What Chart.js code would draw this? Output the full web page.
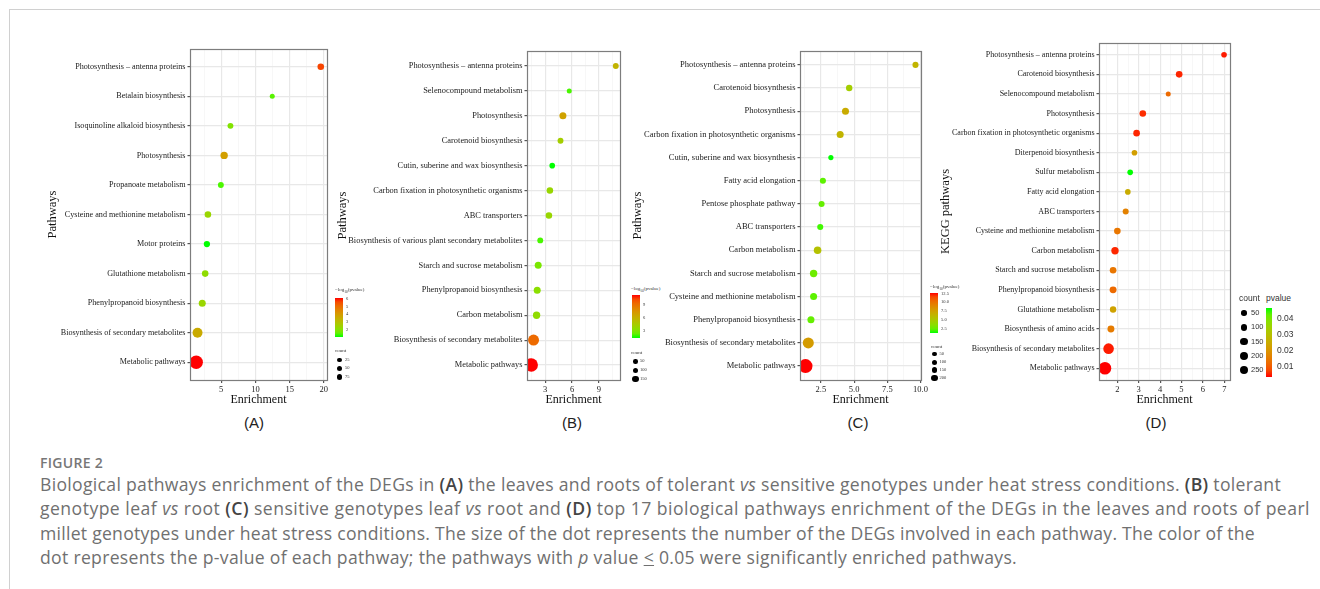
<!DOCTYPE html>
<html>
<head>
<meta charset="utf-8">
<script src="https://cdn.jsdelivr.net/npm/chart.js@4.4.0/dist/chart.umd.min.js"></script>
<style>
  body { margin: 0; width: 1320px; height: 589px; position: relative; overflow: hidden; background: #fff; }
  .frame { position: absolute; left: 9px; top: 9px; width: 1320px; height: 600px; border-top: 1px solid #d0d0d0; border-left: 1px solid #d0d0d0; }
  canvas { position: absolute; }
  .lg { position: absolute; white-space: nowrap; line-height: 1; color: #333; font-family: "Liberation Serif"; }
  .dot { position: absolute; border-radius: 50%; background: #000; }
  .bar { position: absolute; }
  .plabel { position: absolute; top: 414px; font: 15px "Liberation Sans"; color: #222; transform: translateX(-50%); }
  #figLabel { position: absolute; left: 40px; top: 453px; font: 600 14px "Open Sans"; color: #777; letter-spacing: 0.3px; }
  #caption { position: absolute; left: 40px; top: 472px; font: 17.6px/24.3px "Open Sans"; color: #707070; white-space: nowrap; }
  #caption span { display: block; width: max-content; }
  #caption b { color: #444; font-weight: 600; }
</style>
</head>
<body>
<div class="frame"></div>

<div class="plabel" style="left:254px">(A)</div>
<div class="plabel" style="left:572px">(B)</div>
<div class="plabel" style="left:858px">(C)</div>
<div class="plabel" style="left:1156px">(D)</div>

<div id="figLabel">FIGURE 2</div>
<div id="caption"><span data-end="1281">Biological pathways enrichment of the DEGs in <b>(A)</b> the leaves and roots of tolerant <i>vs</i> sensitive genotypes under heat stress conditions. <b>(B)</b> tolerant</span><span data-end="1310">genotype leaf <i>vs</i> root <b>(C)</b> sensitive genotypes leaf <i>vs</i> root and <b>(D)</b> top 17 biological pathways enrichment of the DEGs in the leaves and roots of pearl</span><span data-end="1255">millet genotypes under heat stress conditions. The size of the dot represents the number of the DEGs involved in each pathway. The color of the</span><span data-end="1017">dot represents the p-value of each pathway; the pathways with <i>p</i> value <u>&lt;</u> 0.05 were significantly enriched pathways.</span></div>

<script>
// ---- (A) tolerant vs sensitive, leaves and roots ----
const aPathways = ["Photosynthesis \u2013 antenna proteins", "Betalain biosynthesis", "Isoquinoline alkaloid biosynthesis",
  "Photosynthesis", "Propanoate metabolism", "Cysteine and methionine metabolism", "Motor proteins",
  "Glutathione metabolism", "Phenylpropanoid biosynthesis", "Biosynthesis of secondary metabolites", "Metabolic pathways"];
const aEnrichment = [19.55, 12.46, 6.35, 5.43, 4.95, 3.06, 2.91, 2.66, 2.23, 1.54, 1.35];
const aCount = [5, 2, 3, 9, 3, 5, 4, 5, 7, 32, 88];
const aLogP = [5.7, 1.6, 2.1, 4.0, 1.5, 2.5, 1.24, 2.3, 2.5, 3.7, 6.13];
const aMajorTicks = [5, 10, 15, 20];
const aTickLabels = ["5", "10", "15", "20"];
const aMinorTicks = [2.5, 7.5, 12.5, 17.5];
const aColourTicks = [2, 3, 4, 5, 6];
const aColourLabels = ["2", "3", "4", "5", "6"];
const aCountBreaks = [25, 50, 75];

// ---- (B) tolerant genotype leaf vs root ----
const bPathways = ["Photosynthesis \u2013 antenna proteins", "Selenocompound metabolism", "Photosynthesis",
  "Carotenoid biosynthesis", "Cutin, suberine and wax biosynthesis", "Carbon fixation in photosynthetic organisms",
  "ABC transporters", "Biosynthesis of various plant secondary metabolites", "Starch and sucrose metabolism",
  "Phenylpropanoid biosynthesis", "Carbon metabolism", "Biosynthesis of secondary metabolites", "Metabolic pathways"];
const bEnrichment = [10.9, 5.69, 4.98, 4.71, 3.78, 3.52, 3.41, 2.44, 2.21, 2.10, 2.03, 1.69, 1.43];
const bCount = [6, 4, 14, 6, 5, 10, 10, 6, 14, 14, 18, 94, 180];
const bLogP = [6.1, 2.1, 7.0, 4.6, 1.6, 4.1, 4.1, 2.1, 3.1, 3.6, 3.8, 9.5, 11.5];
const bMajorTicks = [3, 6, 9];
const bTickLabels = ["3", "6", "9"];
const bMinorTicks = [1.5, 4.5, 7.5, 10.5];
const bColourTicks = [3, 6, 9];
const bColourLabels = ["3", "6", "9"];
const bCountBreaks = [50, 100, 150];

// ---- (C) sensitive genotypes leaf vs root ----
const cPathways = ["Photosynthesis \u2013 antenna proteins", "Carotenoid biosynthesis", "Photosynthesis",
  "Carbon fixation in photosynthetic organisms", "Cutin, suberine and wax biosynthesis", "Fatty acid elongation",
  "Pentose phosphate pathway", "ABC transporters", "Carbon metabolism", "Starch and sucrose metabolism",
  "Cysteine and methionine metabolism", "Phenylpropanoid biosynthesis", "Biosynthesis of secondary metabolites",
  "Metabolic pathways"];
const cEnrichment = [9.62, 4.63, 4.35, 3.95, 3.25, 2.65, 2.55, 2.45, 2.25, 1.95, 1.95, 1.75, 1.55, 1.34];
const cCount = [6, 8, 13, 13, 4, 6, 6, 6, 19, 17, 13, 13, 94, 210];
const cLogP = [6.6, 4.9, 7.2, 6.6, 1.45, 2.4, 2.6, 1.9, 5.8, 2.8, 2.4, 2.6, 8.1, 12.9];
const cMajorTicks = [2.5, 5, 7.5, 10];
const cTickLabels = ["2.5", "5.0", "7.5", "10.0"];
const cMinorTicks = [1.25, 3.75, 6.25, 8.75];
const cColourTicks = [2.5, 5, 7.5, 10, 12.5];
const cColourLabels = ["2.5", "5.0", "7.5", "10.0", "12.5"];
const cCountBreaks = [50, 100, 150, 200];

// ---- (D) top 17 pathways ----
const dPathways = ["Photosynthesis \u2013 antenna proteins", "Carotenoid biosynthesis", "Selenocompound metabolism",
  "Photosynthesis", "Carbon fixation in photosynthetic organisms", "Diterpenoid biosynthesis", "Sulfur metabolism",
  "Fatty acid elongation", "ABC transporters", "Cysteine and methionine metabolism", "Carbon metabolism",
  "Starch and sucrose metabolism", "Phenylpropanoid biosynthesis", "Glutathione metabolism",
  "Biosynthesis of amino acids", "Biosynthesis of secondary metabolites", "Metabolic pathways"];
const dEnrichment = [6.99, 4.89, 4.38, 3.19, 2.90, 2.80, 2.60, 2.49, 2.39, 2.00, 1.89, 1.80, 1.80, 1.80, 1.70, 1.59, 1.42];
const dCount = [10, 21, 8, 21, 21, 10, 10, 10, 13, 21, 36, 21, 27, 18, 27, 161, 290];
const dPValue = [0.0040, 0.0045, 0.0120, 0.0050, 0.0045, 0.0220, 0.0466, 0.0250, 0.0160, 0.0140, 0.0046,
  0.0140, 0.0120, 0.0230, 0.0150, 0.0040, 0.0033];
const dMajorTicks = [2, 3, 4, 5, 6, 7];
const dTickLabels = ["2", "3", "4", "5", "6", "7"];
const dMinorTicks = [1.5, 2.5, 3.5, 4.5, 5.5, 6.5];
const dColourTicks = [0.01, 0.02, 0.03, 0.04];
const dColourLabels = ["0.01", "0.02", "0.03", "0.04"];
const dCountBreaks = [50, 100, 150, 200, 250];

// green -> red gradient, interpolated in CIELAB like ggplot
function toLin(c) { c /= 255; return c <= 0.04045 ? c / 12.92 : Math.pow((c + 0.055) / 1.055, 2.4); }
function fromLin(c) {
  c = c <= 0.0031308 ? 12.92 * c : 1.055 * Math.pow(c, 1 / 2.4) - 0.055;
  return Math.round(Math.max(0, Math.min(1, c)) * 255);
}
function rgbToLab(rgb) {
  const R = toLin(rgb[0]), G = toLin(rgb[1]), B = toLin(rgb[2]);
  const X = (0.4124 * R + 0.3576 * G + 0.1805 * B) / 0.95047;
  const Y = 0.2126 * R + 0.7152 * G + 0.0722 * B;
  const Z = (0.0193 * R + 0.1192 * G + 0.9505 * B) / 1.08883;
  const f = t => t > 0.008856 ? Math.cbrt(t) : 7.787 * t + 16 / 116;
  return [116 * f(Y) - 16, 500 * (f(X) - f(Y)), 200 * (f(Y) - f(Z))];
}
function labToRgb(lab) {
  const fy = (lab[0] + 16) / 116, fx = fy + lab[1] / 500, fz = fy - lab[2] / 200;
  const fi = t => t * t * t > 0.008856 ? t * t * t : (t - 16 / 116) / 7.787;
  const X = fi(fx) * 0.95047, Y = fi(fy), Z = fi(fz) * 1.08883;
  return [fromLin(3.2406 * X - 1.5372 * Y - 0.4986 * Z),
          fromLin(-0.9689 * X + 1.8758 * Y + 0.0415 * Z),
          fromLin(0.0557 * X - 0.2040 * Y + 1.0570 * Z)];
}
const LAB_GREEN = rgbToLab([0, 255, 0]);
const LAB_RED = rgbToLab([255, 0, 0]);
function gradColor(t) {
  t = Math.max(0, Math.min(1, t));
  const c = labToRgb(LAB_GREEN.map((g, i) => g + (LAB_RED[i] - g) * t));
  return "rgb(" + c.join(",") + ")";
}

// panel border drawn over the plot like ggplot theme_bw
const panelBorder = {
  id: "panelBorder",
  afterDatasetsDraw(chart) {
    const a = chart.chartArea, ctx = chart.ctx;
    ctx.save();
    ctx.strokeStyle = "#7d7d7d";
    ctx.lineWidth = 1.2;
    ctx.strokeRect(Math.round(a.left) + 0.5, Math.round(a.top) + 0.5,
      Math.round(a.right - a.left), Math.round(a.bottom - a.top));
    ctx.restore();
  }
};

const panels = [
  { pathways: aPathways, enrich: aEnrichment, count: aCount, signif: aLogP, redHigh: true,
    major: aMajorTicks, majorLabels: aTickLabels, minor: aMinorTicks, yTitle: "Pathways", labelSize: 8.15,
    rMin: 2.5, rMax: 6.7, box: { left: 40, top: 39, width: 297, height: 371, yAxisW: 150 },
    legend: { colTicks: aColourTicks, colLabels: aColourLabels, breaks: aCountBreaks, title: [335, 287], bar: [335, 298, 8, 39],
      tickX: 346, countTitle: [335, 348], dotX: 339.5, labelX: 345, rowTop: 360, rowGap: 8.5, dotScale: 0.45, font: 5 } },
  { pathways: bPathways, enrich: bEnrichment, count: bCount, signif: bLogP, redHigh: true,
    major: bMajorTicks, majorLabels: bTickLabels, minor: bMinorTicks, yTitle: "Pathways", labelSize: 8.4,
    rMin: 2.5, rMax: 6.7, box: { left: 330, top: 41, width: 300, height: 369, yAxisW: 197 },
    legend: { colTicks: bColourTicks, colLabels: bColourLabels, breaks: bCountBreaks, title: [631, 286], bar: [632, 295, 8, 43],
      tickX: 643, countTitle: [631, 350], dotX: 635.5, labelX: 640, rowTop: 361.7, rowGap: 8.8, dotScale: 0.48, font: 5 } },
  { pathways: cPathways, enrich: cEnrichment, count: cCount, signif: cLogP, redHigh: true,
    major: cMajorTicks, majorLabels: cTickLabels, minor: cMinorTicks, yTitle: "Pathways", labelSize: 8.5,
    rMin: 2.6, rMax: 7.0, box: { left: 625, top: 41, width: 306, height: 369, yAxisW: 175 },
    legend: { colTicks: cColourTicks, colLabels: cColourLabels, breaks: cCountBreaks, title: [930, 284], bar: [930, 292.7, 8, 40.3],
      tickX: 941, countTitle: [931, 343.5], dotX: 934.5, labelX: 939.5, rowTop: 354, rowGap: 8.1, dotScale: 0.45, font: 5 } },
  { pathways: dPathways, enrich: dEnrichment, count: dCount, signif: dPValue, redHigh: false,
    major: dMajorTicks, majorLabels: dTickLabels, minor: dMinorTicks, yTitle: "KEGG pathways", labelSize: 8.0,
    rMin: 2.5, rMax: 6.3, box: { left: 933, top: 33, width: 307, height: 377, yAxisW: 166 },
    legend: { colTicks: dColourTicks, colLabels: dColourLabels, breaks: dCountBreaks, title: [1266, 294], bar: [1266, 307.7, 5.5, 69],
      tickX: 1277, countTitle: [1239, 294], dotX: 1244, labelX: 1251, rowTop: 313, rowGap: 14.25, dotScale: 0.7, font: 8.5, sans: true } }
];

function addEl(cls, css, html) {
  const el = document.createElement("div");
  el.className = cls;
  Object.assign(el.style, css);
  if (html !== undefined) el.innerHTML = html;
  document.body.appendChild(el);
  return el;
}

function buildPanel(p) {
  const cv = document.createElement("canvas");
  cv.width = p.box.width;
  cv.height = p.box.height;
  cv.style.left = p.box.left + "px";
  cv.style.top = p.box.top + "px";
  document.body.appendChild(cv);

  const n = p.pathways.length;
  const lo = Math.min(...p.enrich), hi = Math.max(...p.enrich);
  const pad = (hi - lo) * 0.05;
  const cMin = Math.min(...p.count), cMax = Math.max(...p.count);
  const sMin = Math.min(...p.signif), sMax = Math.max(...p.signif);
  const radius = c => p.rMin + (p.rMax - p.rMin) * Math.sqrt(Math.max(0, c - cMin) / (cMax - cMin));
  const colour = s => {
    const t = (s - sMin) / (sMax - sMin);
    return gradColor(p.redHigh ? t : 1 - t);
  };
  const majorIndex = v => p.major.findIndex(m => Math.abs(m - v) < 1e-6);

  const points = p.pathways.map((name, i) => ({ x: p.enrich[i], y: i, r: radius(p.count[i]) }));
  const colours = p.signif.map(colour);

  new Chart(cv, {
    type: "bubble",
    data: { datasets: [{ data: points, backgroundColor: colours, borderWidth: 0, hoverRadius: 0 }] },
    options: {
      responsive: false,
      animation: false,
      events: [],
      layout: { autoPadding: false, padding: { top: 10, right: 10, left: 0, bottom: 0 } },
      plugins: { legend: { display: false }, tooltip: { enabled: false } },
      scales: {
        x: {
          type: "linear", min: lo - pad, max: hi + pad,
          afterBuildTicks: ax => { ax.ticks = [...p.minor, ...p.major].sort((a, b) => a - b).map(v => ({ value: v })); },
          afterFit: ax => { ax.height = 30; },
          ticks: {
            autoSkip: false, maxRotation: 0, padding: 1.5, color: "#222",
            font: { family: "Liberation Serif", size: 8.5 },
            callback: v => { const k = majorIndex(v); return k >= 0 ? p.majorLabels[k] : ""; }
          },
          grid: {
            color: c => majorIndex(c.tick.value) >= 0 ? "#e8e8e8" : "#f3f3f3",
            lineWidth: c => majorIndex(c.tick.value) >= 0 ? 1.2 : 0.7,
            tickColor: c => majorIndex(c.tick.value) >= 0 ? "#555" : "rgba(0,0,0,0)",
            tickLength: 3
          },
          border: { display: false },
          title: { display: true, text: "Enrichment", color: "#111",
            font: { family: "Liberation Serif", size: 12 }, padding: { top: 0, bottom: 2.5 } }
        },
        y: {
          type: "linear", reverse: true, min: -0.6, max: n - 0.4,
          afterBuildTicks: ax => { ax.ticks = p.pathways.map((_, i) => ({ value: i })); },
          afterFit: ax => { ax.width = p.box.yAxisW; },
          ticks: {
            autoSkip: false, padding: 2, color: "#1a1a1a",
            font: { family: "Liberation Serif", size: p.labelSize },
            callback: v => p.pathways[v]
          },
          grid: { color: "#e8e8e8", lineWidth: 1.2, tickColor: "#555", tickLength: 2.5 },
          border: { display: false },
          title: { display: true, text: p.yTitle, color: "#111",
            font: { family: "Liberation Serif", size: 12.5 }, padding: { top: 5, bottom: 0 } }
        }
      }
    },
    plugins: [panelBorder]
  });

  // legends: colour bar and dot sizes
  const L = p.legend;
  const fam = L.sans ? "\"Liberation Sans\"" : "\"Liberation Serif\"";
  const titleHtml = p.redHigh ? "\u2212log<sub style=\"font-size:70%\">10</sub>(pvalue)" : "pvalue";
  addEl("lg", { left: L.title[0] + "px", top: L.title[1] + "px", fontSize: L.font + "px", fontFamily: fam }, titleHtml);

  const stops = [];
  for (let k = 0; k <= 10; k++) {
    const s = sMax - (sMax - sMin) * k / 10;
    stops.push(colour(s) + " " + (k * 10) + "%");
  }
  addEl("bar", { left: L.bar[0] + "px", top: L.bar[1] + "px", width: L.bar[2] + "px", height: L.bar[3] + "px",
    background: "linear-gradient(to bottom," + stops.join(",") + ")" });
  L.colTicks.forEach((v, k) => {
    const y = L.bar[1] + (sMax - v) / (sMax - sMin) * L.bar[3];
    addEl("lg", { left: L.tickX + "px", top: (y - L.font * 0.5) + "px", fontSize: (L.font - (L.sans ? 0 : 0.5)) + "px",
      fontFamily: fam }, L.colLabels[k]);
  });

  addEl("lg", { left: L.countTitle[0] + "px", top: L.countTitle[1] + "px", fontSize: L.font + "px", fontFamily: fam }, "count");
  L.breaks.forEach((c, k) => {
    const y = L.rowTop + k * L.rowGap;
    const r = radius(c) * L.dotScale;
    addEl("dot", { left: (L.dotX - r) + "px", top: (y - r) + "px", width: 2 * r + "px", height: 2 * r + "px" });
    addEl("lg", { left: L.labelX + "px", top: (y - L.font * 0.45) + "px", fontSize: (L.sans ? 7.5 : L.font - 0.5) + "px",
      fontFamily: fam }, String(c));
  });
}

panels.forEach(buildPanel);

// stretch each caption line to the width it has in the figure
document.querySelectorAll("#caption span").forEach(line => {
  const target = Number(line.dataset.end) - 40;
  const w = line.getBoundingClientRect().width;
  const chars = line.textContent.length;
  line.style.letterSpacing = ((target - w) / chars) + "px";
});
</script>
</body>
</html>
